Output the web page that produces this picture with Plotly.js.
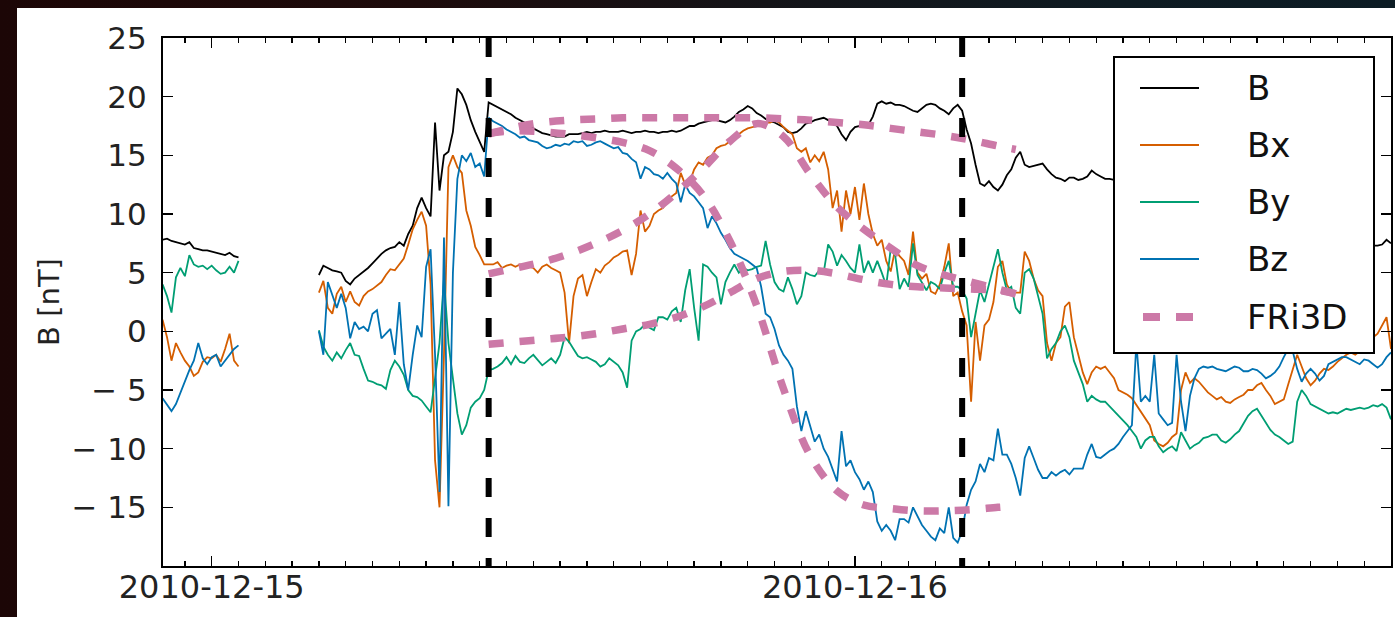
<!DOCTYPE html>
<html>
<head>
<meta charset="utf-8">
<script src="https://cdn.plot.ly/plotly-3.0.1.min.js"></script>
<style>
  html, body { margin: 0; padding: 0; width: 1395px; height: 617px; overflow: hidden;
    background: linear-gradient(90deg, #1c0606 0%, #1d0b0b 30%, #141418 55%, #0e1b22 80%, #0c1c24 100%); }
  #plot { position: absolute; left: 17px; top: 8px; width: 1378px; height: 609px; background: #fff; }
</style>
</head>
<body>
<div id="plot"></div>
<script>
// ---- sampling grid (10-minute samples) ----
const sampleStart = '2010-12-14T22:10:00Z';
const stepMinutes = 10;

// ---- measured field components [nT], one value per 10-minute sample ----
const B = [
  7.8, 7.9, 7.7, 7.6, 7.5, 7.4, 7.6, 7.1, 7.0, 6.9,
  6.9, 6.8, 6.7, 6.6, 6.5, 6.7, 6.4, 6.3, null, null,
  null, null, null, null, null, null, null, null, null, null,
  null, null, null, null, null, 4.8, 5.6, 5.4, 5.2, 5.1,
  5.0, 4.3, 4.0, 4.5, 4.8, 5.1, 5.4, 5.8, 6.2, 6.6,
  6.9, 7.1, 7.2, 7.6, 7.3, 8.3, 9.0, 10.5, 11.4, 10.5,
  9.8, 17.8, 12.0, 15.0, 15.3, 17.0, 20.7, 20.2, 19.3, 18.0,
  17.0, 16.2, 15.3, 19.5, 19.3, 19.1, 18.9, 18.7, 18.5, 18.2,
  18.0, 17.8, 17.5, 17.3, 17.1, 16.9, 16.8, 16.7, 16.6, 16.6,
  16.6, 16.8, 16.8, 16.8, 16.9, 17.0, 16.9, 17.0, 17.0, 17.1,
  17.0, 17.0, 17.0, 17.1, 17.0, 16.9, 17.0, 17.0, 17.1, 17.0,
  17.0, 16.9, 17.0, 17.0, 17.1, 17.0, 17.1, 17.3, 17.5, 17.5,
  17.7, 17.8, 17.9, 18.0, 18.0, 17.9, 17.8, 18.0, 18.3, 18.7,
  18.9, 19.2, 19.0, 18.6, 18.4, 18.1, 17.9, 17.8, 17.6, 17.4,
  17.0, 16.9, 17.0, 17.3, 17.7, 17.8, 18.0, 18.1, 18.2, 18.0,
  17.8, 17.5, 16.8, 16.3, 17.0, 17.4, 17.5, 17.6, 17.6, 18.3,
  19.4, 19.6, 19.4, 19.5, 19.3, 19.3, 19.2, 19.0, 18.8, 18.7,
  19.0, 19.3, 19.4, 19.3, 19.0, 18.8, 18.5, 19.0, 19.3, 18.8,
  17.2, 16.0, 14.2, 12.6, 12.4, 12.8, 12.3, 12.0, 12.5, 13.3,
  13.8, 14.8, 15.3, 14.2, 14.0, 14.1, 14.2, 14.3, 13.8, 13.4,
  13.1, 13.0, 12.8, 13.1, 13.1, 12.9, 13.0, 13.2, 13.7, 13.4,
  13.2, 13.0, 13.0, 12.9, 12.9, 12.8, 12.6, 12.5, 12.7, 12.8,
  12.4, 12.2, 12.3, 12.1, 12.4, 12.3, 12.0, 11.6, 11.2, 11.0,
  11.3, 11.0, 10.8, 10.9, 10.7, 10.8, 10.9, 11.0, 11.2, 11.0,
  10.8, 10.5, 10.2, 10.0, 9.7, 9.6, 9.8, 10.2, 10.6, 11.0,
  11.2, 11.3, 11.4, 11.0, 8.5, 7.8, 7.9, 8.0, 8.1, 8.0,
  8.1, 8.0, 7.8, 7.7, 7.6, 7.5, 7.5, 7.5, 7.4, 7.4,
  7.3, 7.3, 7.3, 7.4, 7.8, 7.5
];
const Bx = [
  1.0, -0.5, -2.5, -1.0, -1.8, -2.5, -3.0, -3.8, -3.5, -2.6,
  -2.2, -2.3, -2.0, -2.6, -1.5, -0.2, -2.5, -3.0, null, null,
  null, null, null, null, null, null, null, null, null, null,
  null, null, null, null, null, 3.3, 4.3, 2.0, 1.5, 3.2,
  3.8, 2.5, 3.4, 2.5, 2.2, 3.0, 3.4, 3.6, 3.9, 4.2,
  4.8, 5.3, 5.2, 5.7, 6.2, 7.4, 8.7, 9.5, 10.2, 9.0,
  4.0, -11.0, -15.0, -2.0, 14.0, 15.0, 14.0, 13.5, 10.3, 9.0,
  7.2, 6.5, 5.7, 5.7, 5.7, 5.9, 5.4, 5.6, 5.7, 5.5,
  5.7, 5.6, 5.5, 5.4, 5.0, 5.5, 5.7, 5.4, 5.2, 5.0,
  3.3, -1.0, 3.0, 4.5, 4.8, 3.0, 4.2, 5.3, 5.0, 5.6,
  5.9, 6.3, 6.5, 6.8, 6.9, 4.8, 6.6, 10.3, 8.5, 9.0,
  10.0, 10.3, 10.5, 11.0, 11.5, 11.8, 13.5, 12.5, 12.7, 13.8,
  14.4, 14.2, 14.8, 15.0, 15.6, 15.8, 15.9, 16.2, 16.6, 16.8,
  17.1, 17.3, 17.4, 17.5, 17.7, 17.8, 17.8, 18.0, 17.8, 17.4,
  17.1, 16.8, 15.6, 15.3, 15.6, 14.4, 15.0, 14.5, 15.3, 13.8,
  10.5, 12.0, 8.5, 12.0, 10.0, 12.3, 9.5, 12.6, 10.0, 8.3,
  7.3, 7.8, 6.0, 5.1, 7.0, 6.4, 6.0, 4.8, 8.5, 5.0,
  4.5, 4.9, 3.4, 3.2, 4.0, 5.5, 7.5, 3.0, 3.3, 1.7,
  0.5, -6.0, 0.8, -2.5, 0.5, 1.0, 2.5, 5.5, 6.0, 4.0,
  3.3, 3.3, 3.3, 6.8, 6.0, 4.5, 3.5, 3.0, -1.0, -2.5,
  -1.0, -0.5, 2.1, 2.5, -0.5, -2.0, -3.5, -4.5, -3.5, -3.0,
  -3.2, -3.0, -3.5, -4.0, -5.0, -5.2, -5.4, -5.7, -6.3, -6.9,
  -7.5, -8.0, -9.3, -9.6, -9.8, -9.5, -9.0, -8.7, -5.0, -3.5,
  -4.4, -4.0, -4.3, -4.8, -5.2, -5.5, -5.8, -5.6, -6.0, -6.1,
  -5.8, -5.6, -5.4, -5.0, -5.0, -4.6, -4.4, -5.0, -5.5, -6.2,
  -6.0, -5.8, -4.5, -3.3, -2.0, -3.0, -4.0, -4.6, -4.2, -3.6,
  -3.2, -3.3, -3.0, -2.6, -2.3, -2.0, -1.8, -2.0, -1.7, -1.5,
  -1.0, -0.5, -0.2, 0.5, 1.2, -1.5
];
const By = [
  4.0, 3.0, 1.6, 4.6, 5.4, 4.7, 6.5, 5.7, 5.5, 5.6,
  5.3, 5.6, 5.2, 4.9, 5.0, 5.5, 5.0, 6.0, null, null,
  null, null, null, null, null, null, null, null, null, null,
  null, null, null, null, null, 0.1, -1.3, -2.0, -2.5, -1.8,
  -2.3, -1.6, -1.0, -2.0, -2.1, -3.2, -4.2, -4.3, -4.5, -4.6,
  -4.9, -3.3, -2.5, -3.0, -3.7, -5.0, -5.5, -5.6, -5.9, -6.4,
  -6.9, -4.0, -1.0, 4.5, -1.0, -4.0, -7.0, -8.8, -8.0, -6.5,
  -6.0, -5.7, -5.0, -3.3, -3.2, -3.0, -2.7, -2.2, -2.8, -2.1,
  -2.6, -2.7, -2.3, -2.0, -2.5, -2.9, -2.6, -2.3, -2.7, -2.0,
  -0.5, -0.9, -1.5, -2.1, -2.3, -2.2, -2.4, -2.6, -3.0, -2.8,
  -2.3, -2.6, -2.9, -3.5, -4.8, -0.8, 0.0, 0.2, 0.6, 0.3,
  0.1, 1.2, 1.2, 1.0, 1.7, 2.0, 0.8, 3.5, 5.3, 2.0,
  -0.8, 5.7, 5.5, 5.0, 4.6, 2.3, 4.2, 5.0, 5.7, 5.0,
  5.4, 5.2, 5.3, 5.5, 5.6, 7.7, 5.7, 4.2, 3.6, 3.4,
  4.6, 3.6, 2.3, 3.0, 5.0, 4.8, 4.7, 5.2, 5.0, 7.4,
  6.8, 5.6, 6.5, 6.0, 5.4, 5.0, 7.4, 5.0, 6.0, 5.0,
  6.0, 5.0, 3.9, 7.0, 6.5, 3.6, 4.5, 3.8, 7.5, 4.8,
  4.2, 3.5, 4.2, 4.0, 3.6, 5.0, 6.0, 3.8, 3.8, 3.5,
  2.8, -0.5, 1.5, 3.5, 2.5, 4.0, 5.5, 7.0, 5.0, 3.5,
  3.8, 2.0, 1.5, 5.0, 5.3, 4.5, 3.0, 1.5, -2.3, -1.5,
  -1.0, 0.0, 0.5, -0.5, -2.5, -3.5, -4.5, -6.0, -5.5, -5.8,
  -6.0, -6.0, -6.4, -6.8, -7.2, -7.6, -8.0, -8.5, -9.0, -10.0,
  -9.3, -9.0, -9.0, -9.8, -10.3, -10.0, -9.8, -10.2, -8.6, -9.3,
  -10.0, -9.7, -9.5, -9.1, -9.0, -8.8, -8.8, -9.3, -9.5, -9.2,
  -8.8, -8.5, -7.8, -7.2, -6.8, -6.6, -7.2, -7.8, -8.4, -8.8,
  -9.0, -9.3, -9.6, -9.4, -6.0, -5.0, -5.5, -6.2, -6.4, -6.6,
  -6.8, -7.0, -6.9, -7.0, -6.8, -6.6, -6.7, -6.6, -6.5, -6.6,
  -6.5, -6.3, -6.4, -6.2, -6.5, -7.5
];
const Bz = [
  -5.7, -6.3, -6.8, -6.2, -5.2, -4.2, -3.3, -2.5, -1.0, -2.3,
  -2.8, -2.2, -2.0, -3.0, -2.5, -2.0, -1.5, -1.2, null, null,
  null, null, null, null, null, null, null, null, null, null,
  null, null, null, null, null, 0.0, -2.0, 4.2, 3.0, 2.0,
  3.2, 2.0, -0.6, 0.8, 0.2, 0.4, 0.0, 1.5, 1.8, -0.6,
  -0.2, 0.2, -2.0, 2.5, -2.8, -5.0, -2.0, 0.5, -0.5, 5.5,
  7.0, -2.0, -13.7, 8.0, -14.9, 5.0, 13.0, 15.0, 14.5, 15.2,
  14.0, 14.3, 13.2, 18.2, 17.9, 17.7, 17.5, 17.2, 17.0, 16.8,
  16.5, 16.6, 16.3, 16.2, 16.1, 15.8, 15.6, 15.7, 15.9, 15.8,
  16.0, 15.9, 16.2, 16.1, 16.2, 15.8, 15.9, 16.1, 16.2, 16.0,
  15.8, 15.6, 15.7, 15.2, 15.1, 14.7, 14.4, 13.0, 14.0, 13.8,
  13.4, 13.3, 13.0, 13.5, 13.0, 12.6, 11.0, 12.5, 11.8, 11.5,
  11.0, 10.5, 8.8, 9.8, 9.2, 8.4, 7.8, 7.1, 6.6, 6.4,
  6.2, 6.0, 5.7, 5.4, 3.8, 1.5, 1.2, 0.2, -1.2, -2.0,
  -2.5, -3.2, -6.4, -8.5, -6.8, -8.1, -9.4, -8.8, -10.0, -10.7,
  -11.8, -12.8, -8.5, -11.5, -11.0, -12.0, -12.6, -13.5, -12.8, -13.7,
  -16.2, -17.0, -16.5, -17.0, -17.8, -16.0, -16.0, -16.3, -15.0, -15.8,
  -16.5, -17.0, -17.5, -17.8, -16.8, -17.2, -15.0, -17.6, -18.0, -17.0,
  -14.8, -13.5, -12.8, -11.3, -12.0, -10.8, -11.0, -8.3, -10.5, -10.5,
  -11.3, -12.5, -14.0, -10.8, -9.8, -10.8, -11.8, -12.5, -12.5, -12.0,
  -12.3, -12.0, -11.8, -12.2, -11.7, -11.7, -11.7, -10.5, -9.6, -10.7,
  -10.8, -10.5, -10.2, -10.0, -9.6, -9.0, -8.5, -8.0, -1.0, -6.0,
  -5.5, -6.0, -2.0, -7.0, -7.5, -8.0, -7.8, -2.0, -6.0, -8.5,
  -5.5, -4.0, -3.2, -3.0, -3.1, -3.0, -3.2, -3.3, -3.4, -3.2,
  -3.0, -3.1, -3.4, -3.4, -3.2, -3.3, -3.6, -4.0, -3.8, -3.5,
  -3.0, -2.2, -1.5, -1.7, -3.2, -4.3, -3.6, -3.2, -3.6, -4.2,
  -3.8, -2.8, -2.6, -2.4, -2.2, -2.2, -2.4, -2.6, -2.8, -2.4,
  -2.5, -2.8, -3.1, -2.8, -2.2, -1.8
];

// ---- FRi3D flux-rope model fit ----
const fitTimes = [
  '2010-12-15 10:20', '2010-12-15 11:20', '2010-12-15 12:20', '2010-12-15 13:20',
  '2010-12-15 14:20', '2010-12-15 15:20', '2010-12-15 16:20', '2010-12-15 17:20',
  '2010-12-15 18:20', '2010-12-15 19:20', '2010-12-15 20:20', '2010-12-15 21:20',
  '2010-12-15 22:20', '2010-12-15 23:20', '2010-12-16 00:20', '2010-12-16 01:20',
  '2010-12-16 02:20', '2010-12-16 03:20', '2010-12-16 04:20', '2010-12-16 05:20',
  '2010-12-16 06:00'
];
const fitB  = [16.8, 17.4, 17.8, 18.0, 18.1, 18.2, 18.2, 18.2, 18.2, 18.2, 18.2, 18.1, 18.0, 17.8, 17.6, 17.3, 17.0, 16.7, 16.3, 15.8, 15.5];
const fitBx = [4.9, 5.4, 5.9, 6.6, 7.5, 8.6, 10.0, 11.8, 13.9, 16.2, 17.7, 16.6, 13.4, 10.6, 8.7, 7.1, 5.6, 4.8, 4.2, 3.6, 3.2];
const fitBy = [-1.1, -0.9, -0.7, -0.5, -0.2, 0.2, 0.6, 1.2, 2.1, 3.3, 4.5, 5.1, 5.2, 4.9, 4.4, 4.0, 3.8, 3.7, 3.6, 3.5, 3.2];
const fitBz = [16.9, 17.1, 17.0, 16.8, 16.5, 16.1, 15.4, 13.9, 11.6, 7.7, 2.2, -4.9, -10.6, -13.6, -14.8, -15.1, -15.3, -15.3, -15.2, -15.0, -14.9];

// ---- event boundaries (dashed lines) ----
const boundaries = ['2010-12-15 10:20', '2010-12-16 04:00'];

// ---- axis ticks ----
const xTickVals = ['2010-12-15', '2010-12-16'];
const xTickText = ['2010-12-15', '2010-12-16'];
const yTickVals = [-15, -10, -5, 0, 5, 10, 15, 20, 25];
const yTickText = ['\u2212 15', '\u2212 10', '\u2212 5', '0', '5', '10', '15', '20', '25'];

// ---- legend ----
const legendNames = ['B', 'Bx', 'By', 'Bz', 'FRi3D'];
const seriesColors = ['#000000', '#D55E00', '#009E73', '#0072B2'];
const fitColor = '#CC79A7';

// build the time axis of the samples
const t0 = Date.parse(sampleStart);
const times = B.map((_, i) => new Date(t0 + i * stepMinutes * 60000).toISOString().slice(0, 16).replace('T', ' '));

const FONT = 'DejaVu Sans, Verdana, sans-serif';
const measured = [B, Bx, By, Bz];
const fits = [fitB, fitBx, fitBy, fitBz];

const traces = [];
measured.forEach((arr, k) => {
  traces.push({
    x: times, y: arr, type: 'scatter', mode: 'lines', name: legendNames[k],
    line: { color: seriesColors[k], width: 1.8 }, connectgaps: false, showlegend: false,
    hoverinfo: 'skip'
  });
});
fits.forEach((arr) => {
  traces.push({
    x: fitTimes, y: arr, type: 'scatter', mode: 'lines', name: 'FRi3D',
    line: { color: fitColor, width: 7.5, dash: '15px,16px', shape: 'spline', smoothing: 1 },
    showlegend: false, hoverinfo: 'skip'
  });
});

// plot-area geometry in paper units for the hand-built legend
const W = 1378, H = 609, mL = 146, mR = 4, mT = 30, mB = 51;
const pw = W - mL - mR, ph = H - mT - mB;
const px = X => (X - 17 - mL) / pw;          // page x -> paper x
const py = Y => (H - mB + 8 - Y) / ph;       // page y -> paper y

const shapes = [];
boundaries.forEach(b => {
  shapes.push({ type: 'line', xref: 'x', yref: 'paper', x0: b, x1: b, y0: 1, y1: 0,
    line: { color: '#000', width: 6, dash: '19px,21px' }, layer: 'above' });
});
// legend box
shapes.push({ type: 'rect', xref: 'paper', yref: 'paper', x0: px(1114), x1: px(1374), y0: py(353), y1: py(57),
  fillcolor: '#ffffff', line: { color: '#000', width: 2 }, layer: 'above' });
const rowY = [88, 145, 202, 259, 317];
const annotations = [];
legendNames.forEach((name, k) => {
  if (k < 4) {
    shapes.push({ type: 'line', xref: 'paper', yref: 'paper', x0: px(1140), x1: px(1199), y0: py(rowY[k]), y1: py(rowY[k]),
      line: { color: seriesColors[k], width: 2.2 }, layer: 'above' });
  } else {
    shapes.push({ type: 'line', xref: 'paper', yref: 'paper', x0: px(1143), x1: px(1193), y0: py(rowY[k]), y1: py(rowY[k]),
      line: { color: fitColor, width: 8, dash: '17px,16px' }, layer: 'above' });
  }
  annotations.push({ xref: 'paper', yref: 'paper', x: px(1245), y: py(rowY[k]), xanchor: 'left', yanchor: 'middle',
    text: name, showarrow: false, font: { family: FONT, size: 34, color: '#111' } });
});

const layout = {
  width: W, height: H,
  margin: { l: mL, r: mR, t: mT, b: mB },
  paper_bgcolor: '#ffffff', plot_bgcolor: '#ffffff',
  showlegend: false,
  font: { family: FONT, color: '#222' },
  xaxis: {
    type: 'date', range: ['2010-12-14 22:11', '2010-12-16 20:00'],
    tickvals: xTickVals, ticktext: xTickText,
    ticks: 'inside', ticklen: 10, tickwidth: 1.5, tickcolor: '#000',
    showline: true, linecolor: '#000', linewidth: 2, mirror: 'allticks',
    showgrid: false, zeroline: false,
    tickfont: { family: FONT, size: 32, color: '#222' },
    ticklabelstandoff: -8,
    minor: { ticks: 'inside', ticklen: 5, tickwidth: 1.3, tickcolor: '#000', dtick: 3600000, tick0: '2010-12-15 00:00', showgrid: false },
    fixedrange: true
  },
  yaxis: {
    range: [-20, 25], tickvals: yTickVals, ticktext: yTickText,
    ticks: 'inside', ticklen: 10, tickwidth: 1.5, tickcolor: '#000',
    showline: true, linecolor: '#000', linewidth: 2, mirror: 'allticks',
    showgrid: false, zeroline: false,
    tickfont: { family: FONT, size: 31, color: '#222' },
    ticklabelstandoff: 8,
    title: { text: 'B [nT]', font: { family: FONT, size: 29, color: '#222' }, standoff: 3 },
    fixedrange: true
  },
  shapes: shapes,
  annotations: annotations
};

Plotly.newPlot('plot', traces, layout, { displayModeBar: false, staticPlot: true });
</script>
</body>
</html>
